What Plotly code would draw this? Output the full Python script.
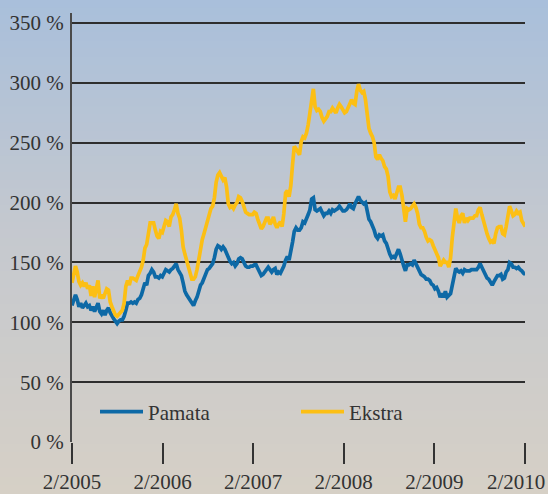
import plotly.graph_objects as go
import pandas as pd

# ---- data (weekly index values, %) ----
start_date = "2005-02-01"
pamata = [
    114, 120, 123, 119, 113, 116, 112, 114, 116, 113, 114, 110, 113, 109, 112, 116,
    109, 107, 110, 106, 110, 112, 108, 105, 103, 101, 99, 101, 102, 102, 105, 110,
    116, 116, 117, 116, 117, 116, 119, 120, 123, 128, 133, 131, 139, 141, 144, 142,
    138, 138, 137, 139, 138, 141, 144, 143, 142, 144, 145, 147, 149, 144, 141, 139,
    133, 126, 123, 121, 119, 116, 114, 118, 121, 126, 131, 133, 137, 139, 144, 145,
    147, 149, 154, 161, 164, 163, 161, 163, 161, 157, 153, 151, 149, 150, 147, 149,
    153, 154, 153, 149, 147, 146, 146, 147, 147, 148, 148, 145, 142, 139, 140, 142,
    144, 146, 144, 142, 144, 145, 140, 142, 141, 144, 147, 152, 155, 152, 158, 167,
    176, 179, 177, 177, 179, 184, 183, 186, 190, 194, 203, 204, 194, 193, 194, 195,
    192, 189, 191, 191, 193, 191, 194, 193, 194, 195, 197, 195, 193, 193, 194, 196,
    199, 196, 195, 199, 202, 205, 202, 200, 199, 200, 193, 186, 184, 181, 177, 172,
    170, 173, 172, 173, 168, 166, 161, 157, 154, 155, 154, 157, 161, 157, 151, 147,
    143, 148, 148, 149, 148, 152, 149, 146, 142, 140, 139, 138, 136, 136, 135, 132,
    131, 128, 129, 126, 121, 124, 121, 126, 121, 123, 124, 131, 139, 145, 143, 142,
    143, 141, 144, 143, 143, 143, 144, 144, 144, 144, 146, 149, 146, 143, 140, 137,
    136, 133, 131, 134, 137, 139, 139, 140, 136, 137, 142, 144, 150, 149, 146, 146,
    145, 146, 144, 143, 141, 140,
]
ekstra = [
    133, 142, 147, 142, 134, 131, 133, 130, 133, 128, 131, 122, 130, 121, 130, 135,
    120, 123, 120, 124, 128, 127, 117, 113, 109, 106, 105, 107, 108, 110, 116, 130,
    135, 131, 137, 137, 136, 135, 139, 142, 146, 152, 162, 165, 177, 183, 183, 183,
    177, 172, 170, 176, 175, 180, 185, 184, 180, 188, 190, 194, 199, 191, 187, 177,
    163, 157, 151, 145, 139, 136, 136, 138, 144, 154, 162, 169, 174, 179, 184, 189,
    195, 197, 204, 217, 223, 225, 221, 219, 221, 213, 199, 196, 197, 195, 198, 200,
    205, 204, 201, 195, 192, 191, 190, 190, 190, 192, 191, 186, 181, 178, 180, 184,
    187, 187, 182, 184, 188, 182, 179, 182, 184, 180, 191, 208, 210, 205, 214, 232,
    247, 245, 242, 240, 251, 255, 254, 258, 265, 275, 283, 295, 280, 277, 278, 276,
    271, 268, 270, 272, 276, 276, 279, 277, 275, 279, 282, 280, 277, 275, 276, 280,
    284, 286, 283, 282, 293, 299, 294, 292, 293, 286, 274, 262, 258, 255, 250, 238,
    236, 240, 237, 235, 230, 228, 222, 209, 205, 206, 203, 208, 213, 213, 206, 195,
    184, 195, 194, 195, 197, 199, 196, 191, 182, 179, 179, 176, 171, 168, 169, 168,
    164, 160, 157, 154, 147, 149, 152, 150, 150, 146, 154, 171, 186, 195, 187, 183,
    189, 191, 183, 187, 185, 187, 187, 187, 189, 189, 194, 196, 190, 184, 179, 174,
    170, 167, 168, 166, 174, 179, 180, 180, 174, 173, 180, 188, 197, 193, 189, 190,
    193, 191, 192, 185, 182, 180,
]
tick_dates = ["2005-02-01", "2006-02-01", "2007-02-01", "2008-02-01", "2009-02-01", "2010-02-01"]
tick_labels = ["2/2005", "2/2006", "2/2007", "2/2008", "2/2009", "2/2010"]
y_ticks = [0, 50, 100, 150, 200, 250, 300, 350]
y_tick_labels = ["0 %", "50 %", "100 %", "150 %", "200 %", "250 %", "300 %", "350 %"]
series_names = ["Pamata", "Ekstra"]
series_colors = ["#0d69a6", "#fcbf14"]

dates = pd.date_range(start_date, periods=len(pamata), freq="7D")

W, H = 548, 494
L, R, T, B = 72, 23, 13, 52
ph = H - T - B
pw = W - L - R

# last tick label is written as an annotation pushed left so it stays inside the figure
shown_tick_labels = tick_labels[:-1] + [""]

fig = go.Figure()
for name, vals, col in zip(series_names, [pamata, ekstra], series_colors):
    fig.add_trace(go.Scatter(x=dates, y=vals, mode="lines", name=name,
                             line=dict(color=col, width=3.7)))

# background gradient (blue top -> beige bottom)
def lerp(c1, c2, t):
    return tuple(round(a + (b - a) * t) for a, b in zip(c1, c2))

stops = [(0.0, (168, 191, 219)), (0.45, (196, 200, 207)), (1.0, (214, 208, 198))]
n = 60
top_p = 1 + T / ph
bot_p = -B / ph
shapes = []
for i in range(n):
    f = (i + 0.5) / n
    for j in range(len(stops) - 1):
        if stops[j][0] <= f <= stops[j + 1][0]:
            t = (f - stops[j][0]) / (stops[j + 1][0] - stops[j][0])
            c = lerp(stops[j][1], stops[j + 1][1], t)
            break
    y1 = top_p - (top_p - bot_p) * i / n
    y0 = top_p - (top_p - bot_p) * (i + 1) / n
    shapes.append(dict(type="rect", xref="paper", yref="paper", x0=-0.2, x1=1.2,
                       y0=y0 - 0.002, y1=y1 + 0.002, line=dict(width=0),
                       fillcolor="rgb(%d,%d,%d)" % c, layer="below"))

font = dict(family="'Liberation Serif', 'DejaVu Serif', serif", size=21, color="#333333")

fig.add_annotation(text=tick_labels[-1], xref="paper", yref="paper",
                   x=(546 - L) / pw, xanchor="right",
                   y=(442 - 482) / ph, yanchor="middle",
                   showarrow=False, font=font, borderpad=0)

fig.update_layout(
    width=W, height=H,
    margin=dict(l=L, r=R, t=T, b=B, pad=0),
    paper_bgcolor="rgb(214,208,198)",
    plot_bgcolor="rgba(0,0,0,0)",
    shapes=shapes,
    font=font,
    showlegend=True,
    legend=dict(orientation="h", x=(95 - L) / pw, xanchor="left",
                y=(442 - 412) / ph, yanchor="middle",
                bgcolor="rgba(0,0,0,0)", itemwidth=43,
                entrywidth=143, entrywidthmode="pixels",
                font=font),
    xaxis=dict(range=["2005-02-01", "2010-02-01"], tickvals=tick_dates, ticktext=shown_tick_labels,
               ticks="outside", ticklen=21, tickwidth=1.5, tickcolor="#333333",
               showgrid=False, zeroline=False, showline=False, automargin=False,
               ticklabelstandoff=0, ticklabeloverflow="allow", tickfont=font),
    yaxis=dict(range=[0, 358.4], tickvals=y_ticks, ticktext=y_tick_labels,
               showgrid=True, gridcolor="#2e2e2e", gridwidth=1.6,
               zeroline=False, showline=True, linecolor="#4a4a4a", linewidth=2,
               ticks="", automargin=False, ticklabelstandoff=2, tickfont=font),
)

fig.write_html("out.html", config={"displayModeBar": False},
               post_script="document.body.style.margin='0';")
